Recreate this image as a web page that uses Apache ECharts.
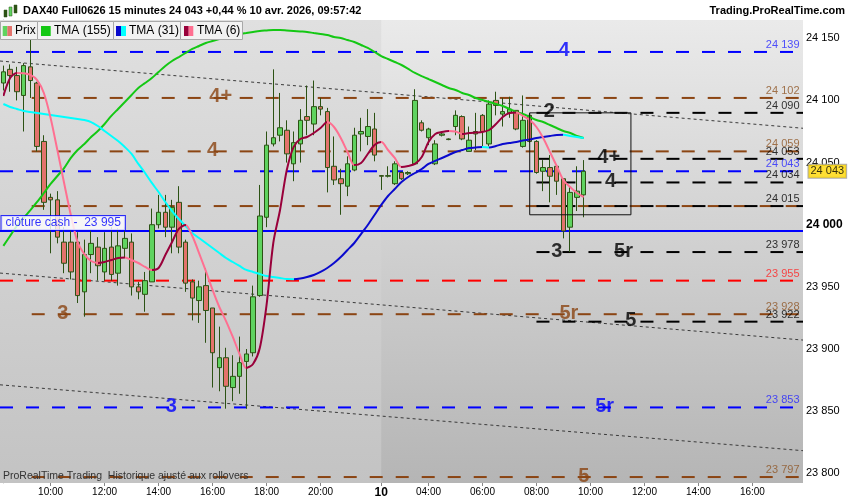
<!DOCTYPE html>
<html><head><meta charset="utf-8">
<script src="https://cdn.jsdelivr.net/npm/echarts@6/dist/echarts.min.js"></script>
<style>html,body{margin:0;padding:0;background:#fff}#c{width:850px;height:500px}</style>
</head><body><div id="c"></div>
<script>
// ---- data: 15-minute candles [open, close, low, high]
const ohlc = [
[24114,24123,24108,24128],[24125,24120,24107,24129],[24120,24107,24100,24127],[24104,24128,24075,24130],[24127,24116,24102,24150],
[24114,24063,24059,24115],[24067,24018,24012,24072],[24022,24020,23977,24025],[24020,23990,23985,24027],[23986,23969,23961,23998],
[23986,23962,23956,23996],[23986,23943,23937,23994],[23946,23976,23926,23988],[23976,23985,23961,23996],[23982,23967,23955,23990],
[23962,23981,23955,23994],[23982,23960,23955,23998],[23961,23983,23951,23997],[23981,23989,23974,23998],[23986,23950,23943,23993],
[23950,23946,23940,23954],[23944,23955,23930,23962],[23954,24000,23954,24013],[24000,24010,23997,24024],[24010,23998,23990,24024],
[23998,24014,23977,24020],[24018,23982,23977,24031],[23986,23953,23946,23988],[23954,23941,23923,23956],[23939,23950,23921,23955],
[23951,23931,23905,23965],[23933,23897,23869,23933],[23885,23893,23866,23918],[23893,23870,23852,23901],[23869,23878,23858,23895],
[23878,23889,23864,23910],[23890,23896,23852,23900],[23897,23942,23894,23951],[23943,24007,23942,24032],[24006,24064,23998,24075],
[24065,24070,24063,24125],[24072,24078,24067,24106],[24076,24057,24050,24084],[24049,24066,24035,24075],[24065,24084,24050,24093],
[24087,24084,24072,24112],[24081,24095,24072,24116],[24095,24093,24088,24102],[24091,24046,24026,24094],[24047,24036,24032,24071],
[24037,24033,24008,24045],[24031,24049,24023,24055],[24044,24072,24043,24078],[24073,24075,24059,24086],[24071,24079,24064,24093],
[24077,24056,24051,24090],[24039.5,24039,24028,24040],[24039,24039.5,24038,24047],[24033,24049,24032,24051],[24042,24037,24036,24043],
[24041,24042,24040,24043],[24049,24100,24048,24109],[24082,24076,24075,24084],[24070,24077,24064,24078],[24049,24065,24048,24068],
[24072,24073,24071,24075],[24068.5,24069,24068,24069.5],[24079,24088,24072,24092],[24087,24069,24068,24088],[24059,24068,24059,24079],
[24073,24075,24060,24090],[24088,24075,24063,24089],[24065,24097,24063,24100],[24100,24096,24088,24107],[24089,24091,24079,24102],
[24090,24093,24086,24103],[24092,24077,24076,24092],[24063,24084,24062,24104],[24088,24067,24066,24090],[24067,24042,24041,24068],
[24043,24046,24027,24052],[24046,24039,24018,24056],[24047,24035,24024,24048],[24037,23995,23989,24037],[23998,24026,23978,24031],
[24022,24027,24011,24047],[24024,24043,24006,24052]
];
const tma155 = [23983,23991,23999,24005.4,24011.8,24018.3,24025.5,24032.8,24039.2,24045.6,
24053.7,24060.1,24064.9,24070.6,24075.4,24081,24087.5,24093.1,24098.7,24104.4,
24110,24114,24118,24122.9,24127.7,24131.7,24134.9,24138.2,24141.4,24143.8,
24146.2,24147.8,24149.4,24151,24152.6,24153.4,24154.2,24155.1,24155.9,24156.3,
24156.7,24156.7,24156.3,24155.9,24155.5,24155.1,24154.2,24153.4,24152.6,24151,
24150.2,24148.6,24147,24144.6,24142.2,24139,24135.7,24133.3,24130.9,24128.5,
24125.3,24122.1,24119.6,24117.2,24114.8,24112.4,24110,24108.4,24106,24104.4,
24101.9,24100.3,24098.7,24097.1,24095.5,24093.1,24090.7,24089.1,24086.7,24084.2,
24082.6,24080.2,24077.8,24075.4,24073.8,24071.4,24069.8];
const tma31 = [24097.1,24094.7,24093.1,24091.5,24090.7,24089.9,24089.1,24088.3,24087.5,24086.7,
24085.9,24085.1,24084.2,24082.6,24079.4,24075.4,24071.4,24067.3,24062.5,24056.9,
24048.9,24041.6,24033.6,24026.3,24018.3,24011,24004.6,23999,23993.3,23989.3,
23985.3,23981.3,23977.2,23973.2,23970,23966.8,23963.6,23962,23960.3,23958.7,
23957.9,23957.1,23956.3,23956.2,23956.7,23957.9,23959.5,23962,23965.2,23969.2,
23974,23979.7,23985.3,23992.5,23999.8,24007.8,24015.9,24023.1,24028.7,24034.4,
24038.4,24041.6,24044.8,24048.9,24051.3,24053.7,24056.1,24058.5,24060.1,24061.7,
24062.1,24062.5,24062.1,24063.3,24064.9,24065.7,24066.5,24067.8,24068.6,24069.8,
24070.6,24071.4,24072.2,24072.3,24071.4,24070.6,24069.8];
const tma6 = [24103.6,24118,24122.1,24121.8,24120.5,24116.4,24106,24085.9,24060.1,24033.6,
24007.8,23986.1,23976.4,23970.8,23969.2,23970,23971.6,23973.2,23973.6,23971.6,
23969.2,23966,23963.6,23965.2,23975.6,23986.1,23996.6,23999.8,23990.9,23977.2,
23962.8,23947.5,23933.8,23922.5,23909.7,23896,23884.7,23887.9,23900.8,23935.4,
23985.3,24011.8,24044,24062.5,24069,24070.6,24073.8,24077.8,24082.6,24078.6,
24069.8,24058.5,24048,24049.7,24056.9,24064.1,24066.5,24060.1,24053.7,24046.4,
24047.2,24048.9,24054.5,24066.5,24073,24074.6,24075.4,24075,24073,24073.8,
24074.2,24074.6,24076.2,24081,24086.7,24089.9,24090.3,24087.5,24084.2,24078.6,
24069.8,24058.5,24047.2,24035.8,24030.3,24025.5,24022.3];

const slotCount = 119;
const tickIdx  = [7,15,23,31,39,47,56,63,71,79,87,95,103,111];
const tickText = ['10:00','12:00','14:00','16:00','18:00','20:00','10','04:00','06:00','08:00','10:00','12:00','14:00','16:00'];
const yTicks = [23800,23850,23900,23950,24000,24050,24100,24150];

const levelValues = [24139,24102,24090,24059,24053,24043,24034,24015,24015,23978,23955,23928,23922,23853,23797];
const levelKinds  = ['blue','brown','black','brown','black','blue','black','brown','black','black','red','brown','black','blue','brown'];
const levelShowVal= [1,1,1,1,1,1,1,0,1,1,1,1,1,1,1];
const cashClose = 23995;
const lastPrice = 24043;

const tagText  = ['4','4+','4','2','4+','4','3','5r','3','5r','5','3','5r','5'];
const tagKind  = ['blue','brown','brown','black','black','black','black','black','brown','brown','black','blue','blue','brown'];
const tagSlot  = [83.1,32.2,31,80.9,89.7,90,82,91.9,8.8,83.8,93,24.9,89.1,86];
const tagPrice = [24139,24102,24059,24090,24053,24034,23978,23978,23928,23928,23922,23853,23853,23797];

const trendLines = [[-0.5,24131.7,118.5,24077.6],[-0.5,23961.1,118.5,23907.2],[-0.5,23871.2,118.5,23818.2]];
const boxSlots = [78,93];
const boxPrices = [24008,24090];
const prevDayEnd = 56;

// ---- styles
const FONT = '"Liberation Sans", Arial, sans-serif';
const kindColor = {blue:'#0000ff', brown:'#8b4513', black:'#000000', red:'#ff0000'};
const kindText  = {blue:'#2626ff', brown:'#8f5524', black:'#000000', red:'#ff2222'};
const kindStart = {blue:-0.5, brown:4.2, black:79, red:-0.5};
const fmt = v => String(v).replace(/\B(?=(\d{3})+(?!\d))/g,' ');

function dirPieces(arr, upC, downC){
  const p=[]; let a=0; const dir = s => arr[s+1] >= arr[s];
  for (let s=1; s<=arr.length-1; s++){
    if (s===arr.length-1 || dir(s)!==dir(a)) {
      const piece = {lte:s, color: dir(a)?upC:downC};
      if (p.length) piece.gt = a; else piece.gte = a;
      p.push(piece); a = s;
    }
  }
  return p;
}

const series = [];
// previous day shading + trend lines
trendLines.forEach((t,k)=>{
  const s = {type:'line', xAxisIndex:1, yAxisIndex:0, data:[[t[0],t[1]],[t[2],t[3]]], symbol:'none', silent:true, z:2,
    lineStyle:{color:'#3a3a3a', width:1, type:[3,3]}};
  if (k===0) s.markArea = {silent:true, z:1,
    itemStyle:{color:{type:'linear', x:0, y:0, x2:0, y2:1, colorStops:[{offset:0,color:'#e0e0e0'},{offset:1,color:'#c3c3c3'}]}},
    data:[[{xAxis:-0.5},{xAxis:prevDayEnd}]]};
  series.push(s);
});
// level lines
levelValues.forEach((v,k)=>{
  series.push({type:'line', xAxisIndex:1, data:[[kindStart[levelKinds[k]], v],[118.5, v]], symbol:'none', silent:true, z:3,
    lineStyle:{color:kindColor[levelKinds[k]], width:2, type:[13,13]}});
});
// cash close line
series.push({type:'line', xAxisIndex:1, data:[[-0.5,cashClose],[118.5,cashClose]], symbol:'none', silent:true, z:3,
  lineStyle:{color:'#0000ff', width:2}});
// box
series.push({type:'line', xAxisIndex:1, symbol:'none', silent:true, z:6,
  data:[[boxSlots[0],boxPrices[1]],[boxSlots[1],boxPrices[1]],[boxSlots[1],boxPrices[0]],[boxSlots[0],boxPrices[0]],[boxSlots[0],boxPrices[1]]],
  lineStyle:{color:'#111', width:1}});
// candles
series.push({type:'candlestick', xAxisIndex:0, data:ohlc, barWidth:5, z:4,
  itemStyle:{color:'#5fd35f', color0:'#e3736c', borderColor:'#2c5214', borderColor0:'#2c5214', borderWidth:1}});
// MAs
series.push({type:'line', xAxisIndex:0, data:tma155, symbol:'none', smooth:0.3, z:5, lineStyle:{color:'#14c814', width:2}});
const idx31 = series.length;
series.push({type:'line', xAxisIndex:0, data:tma31, symbol:'none', smooth:0.3, z:5, lineStyle:{width:2}});
const idx6 = series.length;
series.push({type:'line', xAxisIndex:0, data:tma6, symbol:'none', smooth:0.3, z:5, lineStyle:{width:2}});

// texts
const texts = [];
tagText.forEach((t,k)=>{
  texts.push({value:[tagSlot[k], tagPrice[k]], label:{show:true, formatter:t, position:'inside', offset:[0,-1],
    color:kindColor[tagKind[k]], fontSize:20, fontWeight:'bold', fontFamily:FONT}});
});
levelValues.forEach((v,k)=>{
  if (!levelShowVal[k]) return;
  texts.push({value:[118.5, v], label:{show:true, formatter:fmt(v), position:'left', distance:3, offset:[0,-7],
    color:kindText[levelKinds[k]], fontSize:11, fontFamily:FONT}});
});
texts.push({value:[-0.5, cashClose], label:{show:true, formatter:'clôture cash -  ' + fmt(cashClose), position:'right', distance:1, offset:[0,-8],
  color:'#0000ff', fontSize:12, fontFamily:FONT, backgroundColor:'#ffffff', borderColor:'#0000ff', borderWidth:1, padding:[1,4,0,4], lineHeight:13}});
texts.push({value:[118.5, lastPrice], label:{show:true, formatter:fmt(lastPrice), position:'right', distance:5,
  color:'#000', fontSize:11, fontFamily:FONT, backgroundColor:'#ffd700', borderColor:'#9a9a9a', borderWidth:1, padding:[1,2,0,2], lineHeight:12}});
series.push({type:'scatter', xAxisIndex:1, data:texts, symbol:'circle', symbolSize:1, itemStyle:{color:'rgba(0,0,0,0)'}, silent:true, z:8, clip:false});

const cats = Array.from({length:slotCount}, (_,i)=>String(i));
const showTick = i => tickIdx.indexOf(i) >= 0;

const legendItems = [
  {x:0, w:37, sw:[['#5fd35f',2.7,4.6],['#e3736c',7.3,4.7]], text:'Prix', tx:15},
  {x:37, w:76, sw:[['#14c814',41,9.7]], text:'TMA (155)', tx:54},
  {x:113, w:67, sw:[['#0a0acd',116,5],['#00ffff',121,5]], text:'TMA (31)', tx:129},
  {x:180, w:62, sw:[['#99003a',184,4.7],['#ff6f91',188.7,4.6]], text:'TMA (6)', tx:197}
];
const graphic = [];
legendItems.forEach(it=>{
  graphic.push({type:'rect', shape:{x:it.x+0.5, y:21.5, width:it.w, height:18}, style:{fill:'#f2f2f2', stroke:'#a8a8a8', lineWidth:1}, z:100});
  it.sw.forEach(s=>graphic.push({type:'rect', shape:{x:s[1], y:26, width:s[2], height:10}, style:{fill:s[0]}, z:101}));
  graphic.push({type:'text', x:it.tx, y:31, style:{text:it.text, font:'12px '+FONT, fill:'#000', textVerticalAlign:'middle'}, z:101});
});
// title icon
[[4,8,3,7,'#2c5214'],[9,5,3,9,'#5fd35f'],[14,3,3,8,'#2c5214']].forEach(r=>{
  graphic.push({type:'rect', shape:{x:r[0], y:r[1]+2, width:r[2], height:r[3]}, style:{fill:r[4], stroke:'#2c5214', lineWidth:0.5}, z:100});
});
graphic.push({type:'text', x:23, y:11, style:{text:'DAX40 Full0626 15 minutes 24 043 +0,44 % 10 avr. 2026, 09:57:42', font:'bold 11px '+FONT, fill:'#000', textVerticalAlign:'middle'}, z:100});
graphic.push({type:'text', x:845, y:11, style:{text:'Trading.ProRealTime.com', font:'bold 11px '+FONT, fill:'#000', textAlign:'right', textVerticalAlign:'middle'}, z:100});
graphic.push({type:'text', x:3, y:476, style:{text:'ProRealTime Trading  Historique ajusté aux rollovers', font:'10.5px '+FONT, fill:'#333', textVerticalAlign:'middle'}, z:100});

const chart = echarts.init(document.getElementById('c'), null, {renderer:'canvas'});
chart.setOption({
  animation:false,
  backgroundColor:'#ffffff',
  textStyle:{fontFamily:FONT},
  grid:{left:0, right:47, top:20, bottom:17, show:true, borderWidth:0,
    backgroundColor:{type:'linear', x:0, y:0, x2:0, y2:1, colorStops:[{offset:0,color:'#eaeaea'},{offset:1,color:'#b5b5b5'}]}},
  xAxis:[
    {type:'category', data:cats, boundaryGap:true, axisLine:{show:false},
     axisTick:{show:true, interval:(i)=>showTick(i), alignWithLabel:true, length:3, lineStyle:{color:'#888'}},
     axisLabel:{interval:(i)=>showTick(i), margin:4, fontSize:10, color:'#000', fontFamily:FONT,
       formatter:(v,i)=>{const k=tickIdx.indexOf(i); if(k<0) return ''; return i===56?'{b|'+tickText[k]+'}':tickText[k];},
       rich:{b:{fontWeight:'bold', fontSize:12, fontFamily:FONT, color:'#000'}}},
     splitLine:{show:false}},
    {type:'value', min:-0.5, max:slotCount-0.5, show:false}
  ],
  yAxis:{type:'value', position:'right', min:23792.2, max:24164.7,
    axisLine:{show:true, lineStyle:{color:'#b0b0b0'}},
    axisTick:{show:true, customValues:yTicks, length:4, lineStyle:{color:'#777'}},
    axisLabel:{customValues:yTicks, margin:3, fontSize:11, color:'#000', fontFamily:FONT,
      formatter:v=> v===24000 ? '{b|'+fmt(v)+'}' : fmt(v),
      rich:{b:{fontWeight:'bold', fontSize:12, fontFamily:FONT, color:'#000'}}},
    splitLine:{show:false}},
  visualMap:[
    {type:'piecewise', show:false, dimension:0, seriesIndex:idx31, pieces:dirPieces(tma31,'#0a0acd','#00ffff')},
    {type:'piecewise', show:false, dimension:0, seriesIndex:idx6, pieces:dirPieces(tma6,'#99003a','#ff6f91')}
  ],
  series:series,
  graphic:graphic
});
</script></body></html>
